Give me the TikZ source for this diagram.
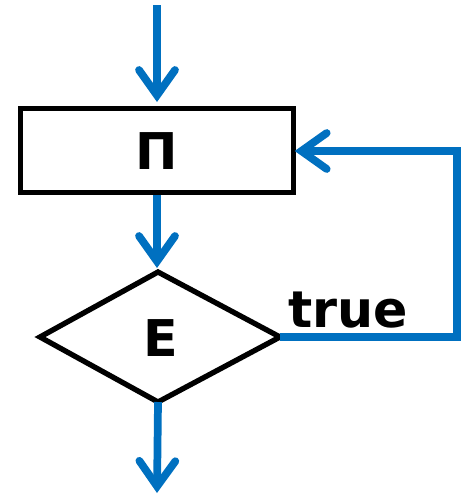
\documentclass[tikz,border=0pt]{standalone}
\usepackage{fontspec}
\setmainfont{DejaVu Sans}
\usetikzlibrary{arrows.meta}
\definecolor{flowblue}{RGB}{0,112,192}
\tikzset{
  px/.style={x=0.75pt,y=-0.75pt},
  box/.style={draw=black,line width=3.8pt,inner sep=0pt},
  flow/.style={draw=flowblue,line width=5.8pt,
    -{Straight Barb[length=19pt,width=27pt,line cap=round]}},
  lbl/.style={font=\fontsize{38}{40}\selectfont\bfseries,inner sep=0pt},
}
\begin{document}
\begin{tikzpicture}[px]
\useasboundingbox (0,0) rectangle (461,497);
% process box
\node[box,minimum width=204.75pt,minimum height=63pt] (proc) at (157,150.5) {};
\node[lbl] (ptext) at (157,151) {П};
% decision diamond
\coordinate (dtop) at (158,272);
\coordinate (dbot) at (158,402);
\coordinate (dleft) at (40,337);
\coordinate (dright) at (280,337);
\draw[draw=black,line width=4pt,line join=miter] (dtop) -- (dright) -- (dbot) -- (dleft) -- cycle;
\node[lbl] (dtext) at (161,338) {E};
% connectors
\coordinate (start) at (157,5);
\coordinate (finish) at (157,493);
\coordinate (corner1) at (457,337);
\coordinate (corner2) at (457,151);
\draw[flow] (start) -- (157,102);
\draw[flow] (proc.south) -- (157,268);
\draw[flow] (dbot) -- (finish);
\draw[flow] (dright) -- (corner1) -- (corner2) -- ([xshift=-1pt]proc.east |- corner2);
\node[lbl,anchor=base west] (tlabel) at (288,327) {true};
\end{tikzpicture}
\end{document}
